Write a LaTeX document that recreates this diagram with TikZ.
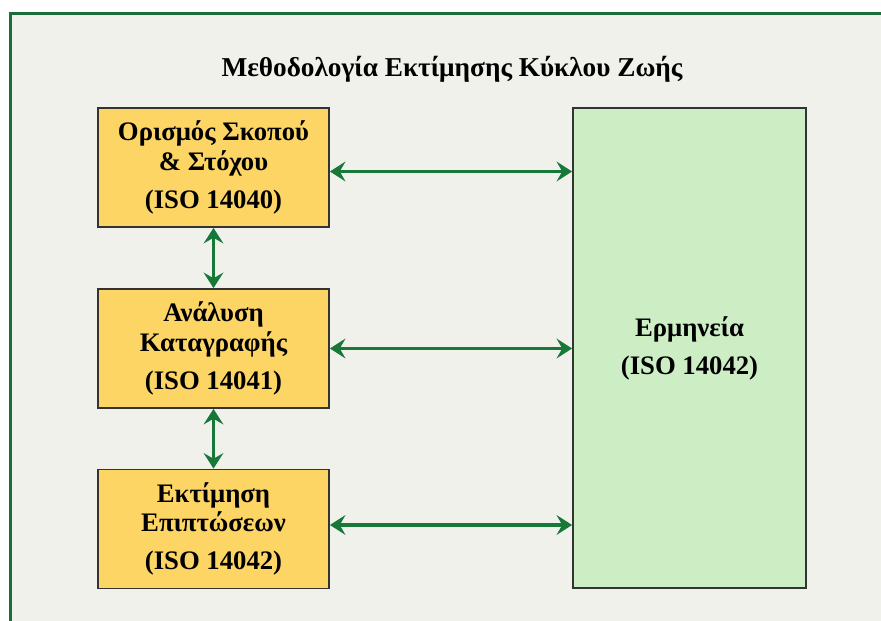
\documentclass[tikz,border=0pt]{standalone}
\usepackage{fontspec}
\setmainfont{Liberation Serif}
\usetikzlibrary{arrows.meta}
\definecolor{framegreen}{HTML}{1B6E3C}
\definecolor{arrowgreen}{HTML}{17783A}
\definecolor{stepyellow}{HTML}{FCD565}
\definecolor{interpgreen}{HTML}{CDEEC5}
\definecolor{paper}{HTML}{F1F1EB}
\tikzset{
  stagebox/.style={draw=black!80, line width=1.3pt, fill=stepyellow,
    minimum width=5.775cm, minimum height=2.975cm, align=center,
    font=\bfseries\fontsize{19}{21}\selectfont, inner sep=0pt},
  link/.style={draw=arrowgreen, line width=2.4pt,
    {Stealth[length=11pt,width=14pt,inset=4pt]}-{Stealth[length=11pt,width=14pt,inset=4pt]}}
}
\begin{document}
\begin{tikzpicture}
  \useasboundingbox (0,0) rectangle (22.025,15.5);
  \fill[white] (0,0) rectangle (22.025,15.5);
  % frame
  \begin{scope}
    \clip (0,0) rectangle (22.025,15.5);
    \draw[framegreen, line width=2.2pt, fill=paper] (0.27,-1) rectangle (23,15.16);
  \end{scope}
  % title
  \node[font=\bfseries\fontsize{19.4}{21}\selectfont] (title) at (11.3,13.78)
    {Μεθοδολογία Εκτίμησης Κύκλου Ζωής};
  % stages
  \node[stagebox] (goal) at (5.3375,11.3125)
    {Ορισμός Σκοπού\\[0pt]\& Στόχου\\[6pt](ISO 14040)};
  \node[stagebox] (inventory) at (5.3375,6.7875)
    {Ανάλυση\\[0pt]Καταγραφής\\[6pt](ISO 14041)};
  \node[stagebox] (impact) at (5.3375,2.275)
    {Εκτίμηση\\[0pt]Επιπτώσεων\\[6pt](ISO 14042)};
  % interpretation
  \node[stagebox, fill=interpgreen, minimum width=5.825cm, minimum height=12cm]
    (interp) at (17.2375,6.8) {Ερμηνεία\\[6pt](ISO 14042)};
  % links
  \draw[link] (goal.south) -- (inventory.north);
  \draw[link] (inventory.south) -- (impact.north);
  \draw[link] ([yshift=-0.1cm]goal.east) -- ([yshift=-0.1cm]goal.east -| interp.west);
  \draw[link] (inventory.east) -- (inventory.east -| interp.west);
  \draw[link] ([yshift=0.1cm]impact.east) -- ([yshift=0.1cm]impact.east -| interp.west);
\end{tikzpicture}
\end{document}
